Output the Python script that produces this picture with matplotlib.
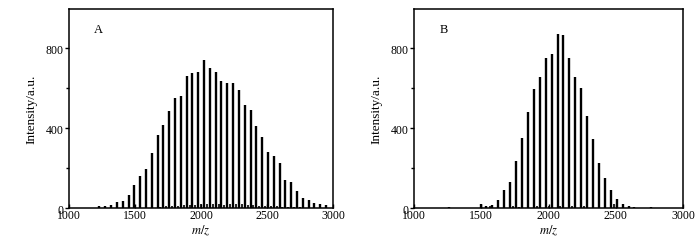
import matplotlib.pyplot as plt
from matplotlib.ticker import MultipleLocator

plt.rcParams['font.family'] = ['Liberation Serif', 'DejaVu Serif']
plt.rcParams['mathtext.fontset'] = 'stix'

# panel A: main peak series (m/z, intensity)
mz_a = [1143, 1231, 1275, 1319, 1363, 1407, 1451, 1495, 1539, 1583, 1627,
        1671, 1715, 1759, 1803, 1847, 1891, 1935, 1979, 2023, 2067, 2111,
        2155, 2199, 2243, 2287, 2331, 2375, 2419, 2463, 2507, 2551, 2595,
        2639, 2683, 2727, 2771, 2815, 2859, 2903, 2947]
int_a = [2, 8, 8, 17, 30, 37, 65, 116, 158, 195, 275,
         367, 413, 485, 549, 560, 658, 676, 681, 738, 698, 680,
         634, 624, 624, 589, 517, 488, 409, 357, 282, 262, 226,
         141, 131, 84, 49, 39, 23, 18, 15]
# panel A: small satellite peaks
mz_a2 = [1693, 1737, 1781, 1825, 1869, 1913, 1957, 2001, 2045, 2089, 2133,
         2177, 2221, 2265, 2309, 2353, 2397, 2441, 2485, 2529, 2573, 2617,
         2661, 2705, 2749]
int_a2 = [6, 8, 10, 12, 14, 15, 17, 18, 20, 19, 18,
          17, 20, 22, 19, 16, 14, 12, 10, 9, 8, 6,
          5, 4, 3]

# panel B: main peak series
mz_b = [1260, 1495, 1539, 1583, 1627, 1671, 1715, 1759, 1803, 1847, 1891,
        1935, 1979, 2023, 2067, 2111, 2155, 2199, 2243, 2287, 2331, 2375,
        2419, 2463, 2507, 2551, 2595, 2639, 2765]
int_b = [6, 20, 10, 17, 39, 91, 131, 237, 351, 481, 597,
         654, 750, 771, 871, 866, 748, 654, 602, 458, 347, 223,
         151, 89, 45, 20, 12, 4, 5]
# panel B: small satellite peaks
mz_b2 = [1565, 1737, 1781, 1913, 2001, 2089, 2177, 2265, 2485]
int_b2 = [8, 8, 6, 8, 10, 10, 8, 8, 22]

fig = plt.figure(figsize=(7.0, 2.51), dpi=100)
ax_a = fig.add_axes([69 / 700, 1 - 209 / 251, 264 / 700, 199 / 251])
ax_b = fig.add_axes([414 / 700, 1 - 209 / 251, 269 / 700, 199 / 251])

panels = [(ax_a, mz_a, int_a, mz_a2, int_a2, 'A'),
          (ax_b, mz_b, int_b, mz_b2, int_b2, 'B')]

for ax, mz, inten, mz2, inten2, tag in panels:
    ax.vlines(mz, 0, inten, color='black', lw=1.7)
    ax.vlines(mz2, 0, inten2, color='black', lw=1.2)
    ax.set_xlim(1000, 3000)
    ax.set_ylim(0, 995)
    ax.set_xticks([1000, 1500, 2000, 2500, 3000])
    ax.set_yticks([0, 400, 800])
    ax.yaxis.set_minor_locator(MultipleLocator(200))
    ax.tick_params(axis='y', which='major', direction='out', length=3,
                   width=1, labelsize=8.5, pad=1)
    ax.tick_params(axis='y', which='minor', direction='out', length=2, width=1)
    ax.tick_params(axis='x', which='major', direction='in', length=3,
                   width=1, labelsize=8.5, pad=1)
    for s in ax.spines.values():
        s.set_linewidth(1.1)
    ax.set_xlabel('$m/z$', fontsize=9, labelpad=1)
    ax.set_ylabel('Intensity/a.u.', fontsize=9.5, labelpad=6)
    ax.text(0.11, 0.9, tag, transform=ax.transAxes, fontsize=9,
            ha='center', va='center')

fig.savefig('out.png', dpi=100)
